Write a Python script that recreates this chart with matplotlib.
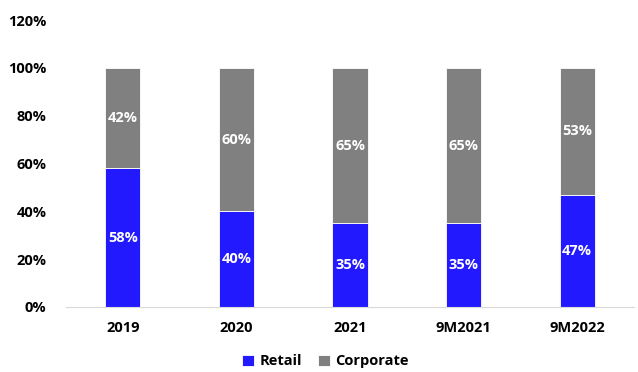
import matplotlib
matplotlib.use("Agg")
import matplotlib.pyplot as plt
from matplotlib.ticker import FuncFormatter

plt.rcParams['font.family'] = ['Open Sans', 'DejaVu Sans']
plt.rcParams['font.weight'] = 'bold'

periods = ["2019", "2020", "2021", "9M2021", "9M2022"]
retail = [58, 40, 35, 35, 47]
corporate = [42, 60, 65, 65, 53]

blue = "#2219FF"
grey = "#808080"

fig = plt.figure(figsize=(6.38, 3.72), dpi=100)
ax = fig.add_axes([66 / 638, 65 / 372, 568 / 638, 287 / 372])

x = range(len(periods))
w = 0.31
ax.bar(x, retail, w, color=blue, edgecolor="white", linewidth=0.6, label="Retail")
ax.bar(x, corporate, w, bottom=retail, color=grey, edgecolor="white", linewidth=0.6, label="Corporate")

for i in x:
    ax.text(i, retail[i] / 2, f"{retail[i]}%", ha="center", va="center",
            color="white", fontsize=10.5, fontweight="bold")
    ax.text(i, retail[i] + corporate[i] / 2, f"{corporate[i]}%", ha="center", va="center",
            color="white", fontsize=10.5, fontweight="bold")

ax.set_xlim(-0.5, len(periods) - 0.5)
ax.set_ylim(0, 120)
ax.set_yticks(range(0, 121, 20))
ax.yaxis.set_major_formatter(FuncFormatter(lambda v, p: f"{int(v)}%"))
ax.set_xticks(list(x))
ax.set_xticklabels(periods)
ax.tick_params(axis="both", length=0, labelsize=10.5)
ax.tick_params(axis="x", pad=10)
ax.tick_params(axis="y", pad=14)

for s in ["top", "right", "left"]:
    ax.spines[s].set_visible(False)
ax.spines["bottom"].set_color("#D9D9D9")

fig.legend(loc="lower center", bbox_to_anchor=(0.51, -0.025), ncol=2, frameon=False,
           fontsize=10.5, handlelength=0.8, handleheight=0.8, handletextpad=0.4,
           columnspacing=1.1)

fig.savefig("out.png", dpi=100)
